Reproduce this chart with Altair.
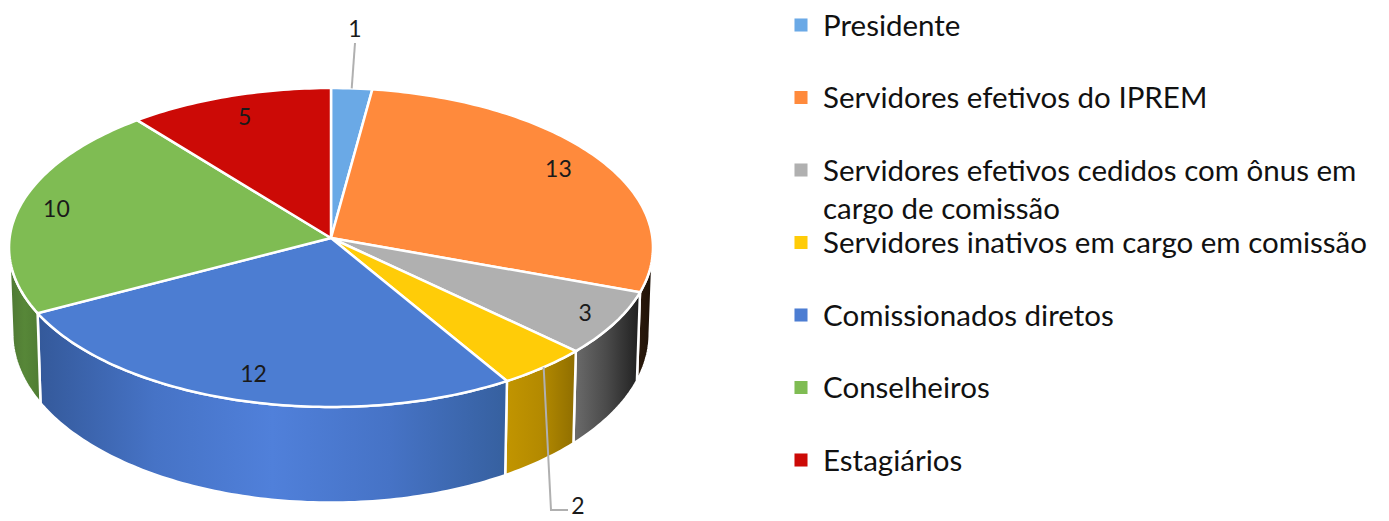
import math
import altair as alt
import pandas as pd

# ---- data ----
categories = ["Presidente", "Servidores efetivos do IPREM",
              "Servidores efetivos cedidos com ônus em\ncargo de comissão",
              "Servidores inativos em cargo em comissão",
              "Comissionados diretos", "Conselheiros", "Estagiários"]
values = [1, 13, 3, 2, 12, 10, 5]
top_colors = ["#6aa9e6", "#ff8a3c", "#b0b0b0", "#ffcc08", "#4c7dd2", "#7fbc53", "#cc0a06"]
wall_stops = [
    ["#4f86bd", "#4f86bd"],
    ["#2c1a0c", "#1e1208"],
    ["#6c6c6c", "#4a4a4a", "#1f1f1f"],
    ["#c29500", "#b48a00", "#8f6e00"],
    ["#34599a", "#4673c6", "#5080da", "#4673c6", "#36609f"],
    ["#4e7833", "#578738", "#4f7c33"],
    ["#8f0a06", "#8f0a06"],
]

# ---- geometry of the tilted pie (reference pixels) ----
W, H = 1373, 513
CX, CY, A, B, K = 331.0, 238.0, 321.4, 158.9, 0.0596
BOT_S, BOT_A, BOT_B = 0.99, 323.5, 1.06
TANGENT = math.degrees(math.acos(-K))  # rim turns away from viewer here
LABEL_R = [0.85, 0.85, 0.90, 0.85, 0.85, 0.882, 0.84]


def top(t, r=1.0):
    a = math.radians(t)
    u, v = r * math.sin(a), r * math.cos(a)
    w = 1 + K * v
    return CX + A * u / w, CY - B * v / w


def bottom(t):
    x, y = top(t)
    return CX + BOT_S * (x - CX), BOT_A + BOT_B * (y - CY)


def frange(a, b, step=1.0):
    n = max(2, int(abs(b - a) / step) + 1)
    return [a + (b - a) * i / (n - 1) for i in range(n)]


total = sum(values)
edges = [0.0]
for val in values:
    edges.append(edges[-1] + val / total * 360)

x_scale = alt.Scale(domain=[8, 8 + W], range=[0, W], nice=False, zero=False)
y_scale = alt.Scale(domain=[8, 8 + H], range=[0, H], nice=False, zero=False)
X = alt.X("x:Q", scale=x_scale, axis=None)
Y = alt.Y("y:Q", scale=y_scale, axis=None)
layers = []

# walls
for i, (t0, t1) in enumerate(zip(edges[:-1], edges[1:])):
    lo, hi = max(t0, TANGENT), min(t1, 360 - TANGENT)
    if lo >= hi:
        continue
    ts = frange(lo, hi)
    pts = [top(t) for t in ts] + [bottom(t) for t in reversed(ts)]
    pts.append(pts[0])
    df = pd.DataFrame({"x": [p[0] for p in pts], "y": [p[1] for p in pts], "o": range(len(pts))})
    stops = wall_stops[i]
    grad = alt.LinearGradient(
        gradient="linear", x1=0, x2=1, y1=0, y2=0,
        stops=[alt.GradientStop(color=c, offset=j / (len(stops) - 1)) for j, c in enumerate(stops)],
    )
    layers.append(alt.Chart(df).mark_line(fill=grad, stroke="white", strokeWidth=2.5, strokeJoin="miter")
                  .encode(x=X, y=Y, order="o:Q"))

# top face
for i, (t0, t1) in enumerate(zip(edges[:-1], edges[1:])):
    pts = [(CX, CY)] + [top(t) for t in frange(t0, t1)] + [(CX, CY)]
    df = pd.DataFrame({"x": [p[0] for p in pts], "y": [p[1] for p in pts], "o": range(len(pts)),
                       "categoria": categories[i].replace("\n", " "), "valor": values[i]})
    layers.append(alt.Chart(df).mark_line(fill=top_colors[i], stroke="white", strokeWidth=2.5, strokeJoin="miter")
                  .encode(x=X, y=Y, order="o:Q"))

# value labels
mids = [(a + b) / 2 for a, b in zip(edges[:-1], edges[1:])]
inside = [i for i in range(len(values)) if values[i] not in (1, 2)]
lab = pd.DataFrame({"x": [top(mids[i], LABEL_R[i])[0] for i in inside],
                    "y": [top(mids[i], LABEL_R[i])[1] for i in inside],
                    "t": [str(values[i]) for i in inside]})
text_kw = dict(font="Lato", fontSize=23, color="#1a1a1a", align="center", baseline="middle")
layers.append(alt.Chart(lab).mark_text(**text_kw).encode(x=X, y=Y, text="t:N"))

# leader lines with their labels
leader_1 = [top(mids[0]), (355, 43)]
leader_2 = [top(mids[3]), (551, 510), (568, 510)]
for pts in (leader_1, leader_2):
    df = pd.DataFrame({"x": [p[0] for p in pts], "y": [p[1] for p in pts], "o": range(len(pts))})
    layers.append(alt.Chart(df).mark_line(color="#b0b0b0", strokeWidth=2).encode(x=X, y=Y, order="o:Q"))
out = pd.DataFrame({"x": [355, 578], "y": [30, 507], "t": [str(values[0]), str(values[3])]})
layers.append(alt.Chart(out).mark_text(**text_kw).encode(x=X, y=Y, text="t:N"))

# legend
ROW0, STEP, LEAD = 25.0, 72.5, 38.0
TEXT_DY = 1.5
sq = pd.DataFrame({"x": [801] * len(categories), "y": [ROW0 + STEP * i for i in range(len(categories))],
                   "c": top_colors})
layers.append(alt.Chart(sq).mark_square(size=170, opacity=1)
              .encode(x=X, y=Y, color=alt.Color("c:N", scale=None)))
rows = []
for i, name in enumerate(categories):
    for j, line in enumerate(name.split("\n")):
        rows.append({"x": 823, "y": ROW0 + STEP * i + j * LEAD + TEXT_DY, "t": line})
layers.append(alt.Chart(pd.DataFrame(rows))
              .mark_text(font="Lato", fontSize=29.5, color="#111111", align="left", baseline="middle")
              .encode(x=X, y=Y, text="t:N"))

chart = alt.layer(*layers).properties(
    width=W, height=H, padding=0, autosize=alt.AutoSizeParams(type="none")
).configure_view(stroke=None)
chart.save("out.html", embed_options={"renderer": "svg", "actions": False})
